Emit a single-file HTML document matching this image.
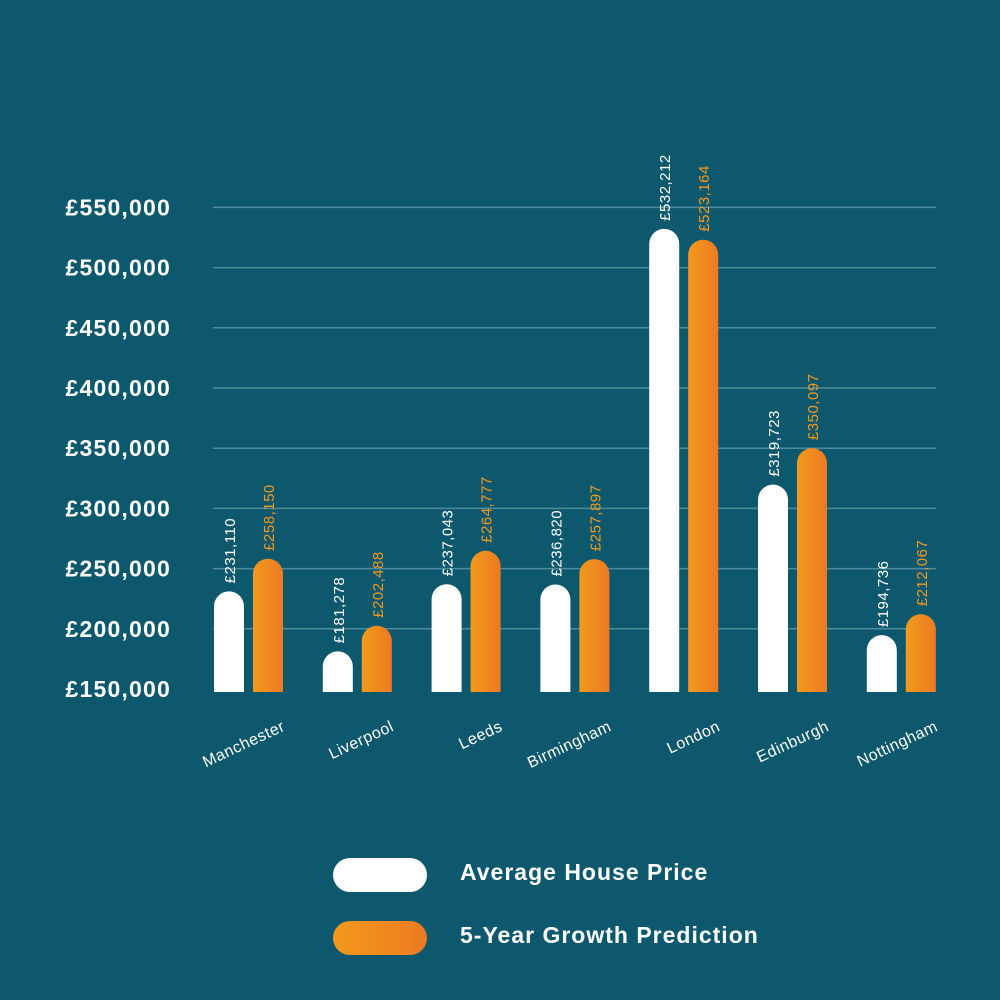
<!DOCTYPE html>
<html><head><meta charset="utf-8"><style>
body{margin:0;background:#0e586d;}
svg{display:block;font-family:"Liberation Sans",sans-serif;}
</style></head><body>
<svg id="chart" width="1000" height="1000" viewBox="0 0 1000 1000">
<rect width="1000" height="1000" fill="#0e586d"/>
<defs><linearGradient id="og" x1="0" x2="1"><stop offset="0" stop-color="#f39a1c"/><stop offset="1" stop-color="#ec7a22"/></linearGradient></defs>
<g id="grid"></g><g id="bars"></g>
<g>
<rect x="333" y="858" width="94" height="34" rx="17" fill="#fff"/>
<text x="460" y="880" fill="#fff" font-size="23" font-weight="bold" letter-spacing="1">Average House Price</text>
<rect x="333" y="921" width="94" height="34" rx="17" fill="url(#og)"/>
<text x="460" y="943" fill="#fff" font-size="23" font-weight="bold" letter-spacing="1">5-Year Growth Prediction</text>
</g>
</svg>
<script>
const categories=["Manchester","Liverpool","Leeds","Birmingham","London","Edinburgh","Nottingham"];
const avgPrice=[231110,181278,237043,236820,532212,319723,194736];
const growth=[258150,202488,264777,257897,523164,350097,212067];
const ticks=[150000,200000,250000,300000,350000,400000,450000,500000,550000];
const NS="http://www.w3.org/2000/svg";
const grid=document.getElementById('grid'),bars=document.getElementById('bars');
function y(v){return 689-(v-150000)/50000*60.2;}
function x(i){return 214+i*108.8;}
function fmt(v){return "£"+v.toLocaleString('en-GB');}
function mk(t,a,p){const e=document.createElementNS(NS,t);for(const k in a)e.setAttribute(k,a[k]);p.appendChild(e);return e;}
ticks.forEach((t,i)=>{
  if(i>0){const l=mk('line',{x1:213,x2:936,y1:y(t),y2:y(t),stroke:'#4d8a9b','stroke-width':1.5},grid);
  
  }
  const tx=mk('text',{x:171,y:y(t)+8,fill:'#fff','font-size':23,'font-weight':'bold','text-anchor':'end','letter-spacing':1.2},grid);
  tx.textContent=fmt(t);
  
  
});
const base=692,w=30;
categories.forEach((c,i)=>{
  [[avgPrice[i],'#fff',0],[growth[i],'url(#og)',39]].forEach(([v,col,off],j)=>{
    const bx=x(i)+off,top=y(v);
    const p=mk('path',{d:`M${bx},${base}V${top+15}A15,15 0 0 1 ${bx+w},${top+15}V${base}Z`,fill:col},bars);
    
    
    const t=mk('text',{transform:`translate(${bx+w/2+6},${top-8}) rotate(-90)`,fill:j?'#f39a1c':'#fff','font-size':15,'letter-spacing':0.5},bars);
    t.textContent=fmt(v);
    
    
  });
  const cl=mk('text',{transform:`translate(${x(i)+72},${730}) rotate(-25)`,fill:'#fff','font-size':16,'text-anchor':'end','letter-spacing':0.5},bars);
  cl.textContent=c;
  
  
});
</script>
</body></html>
